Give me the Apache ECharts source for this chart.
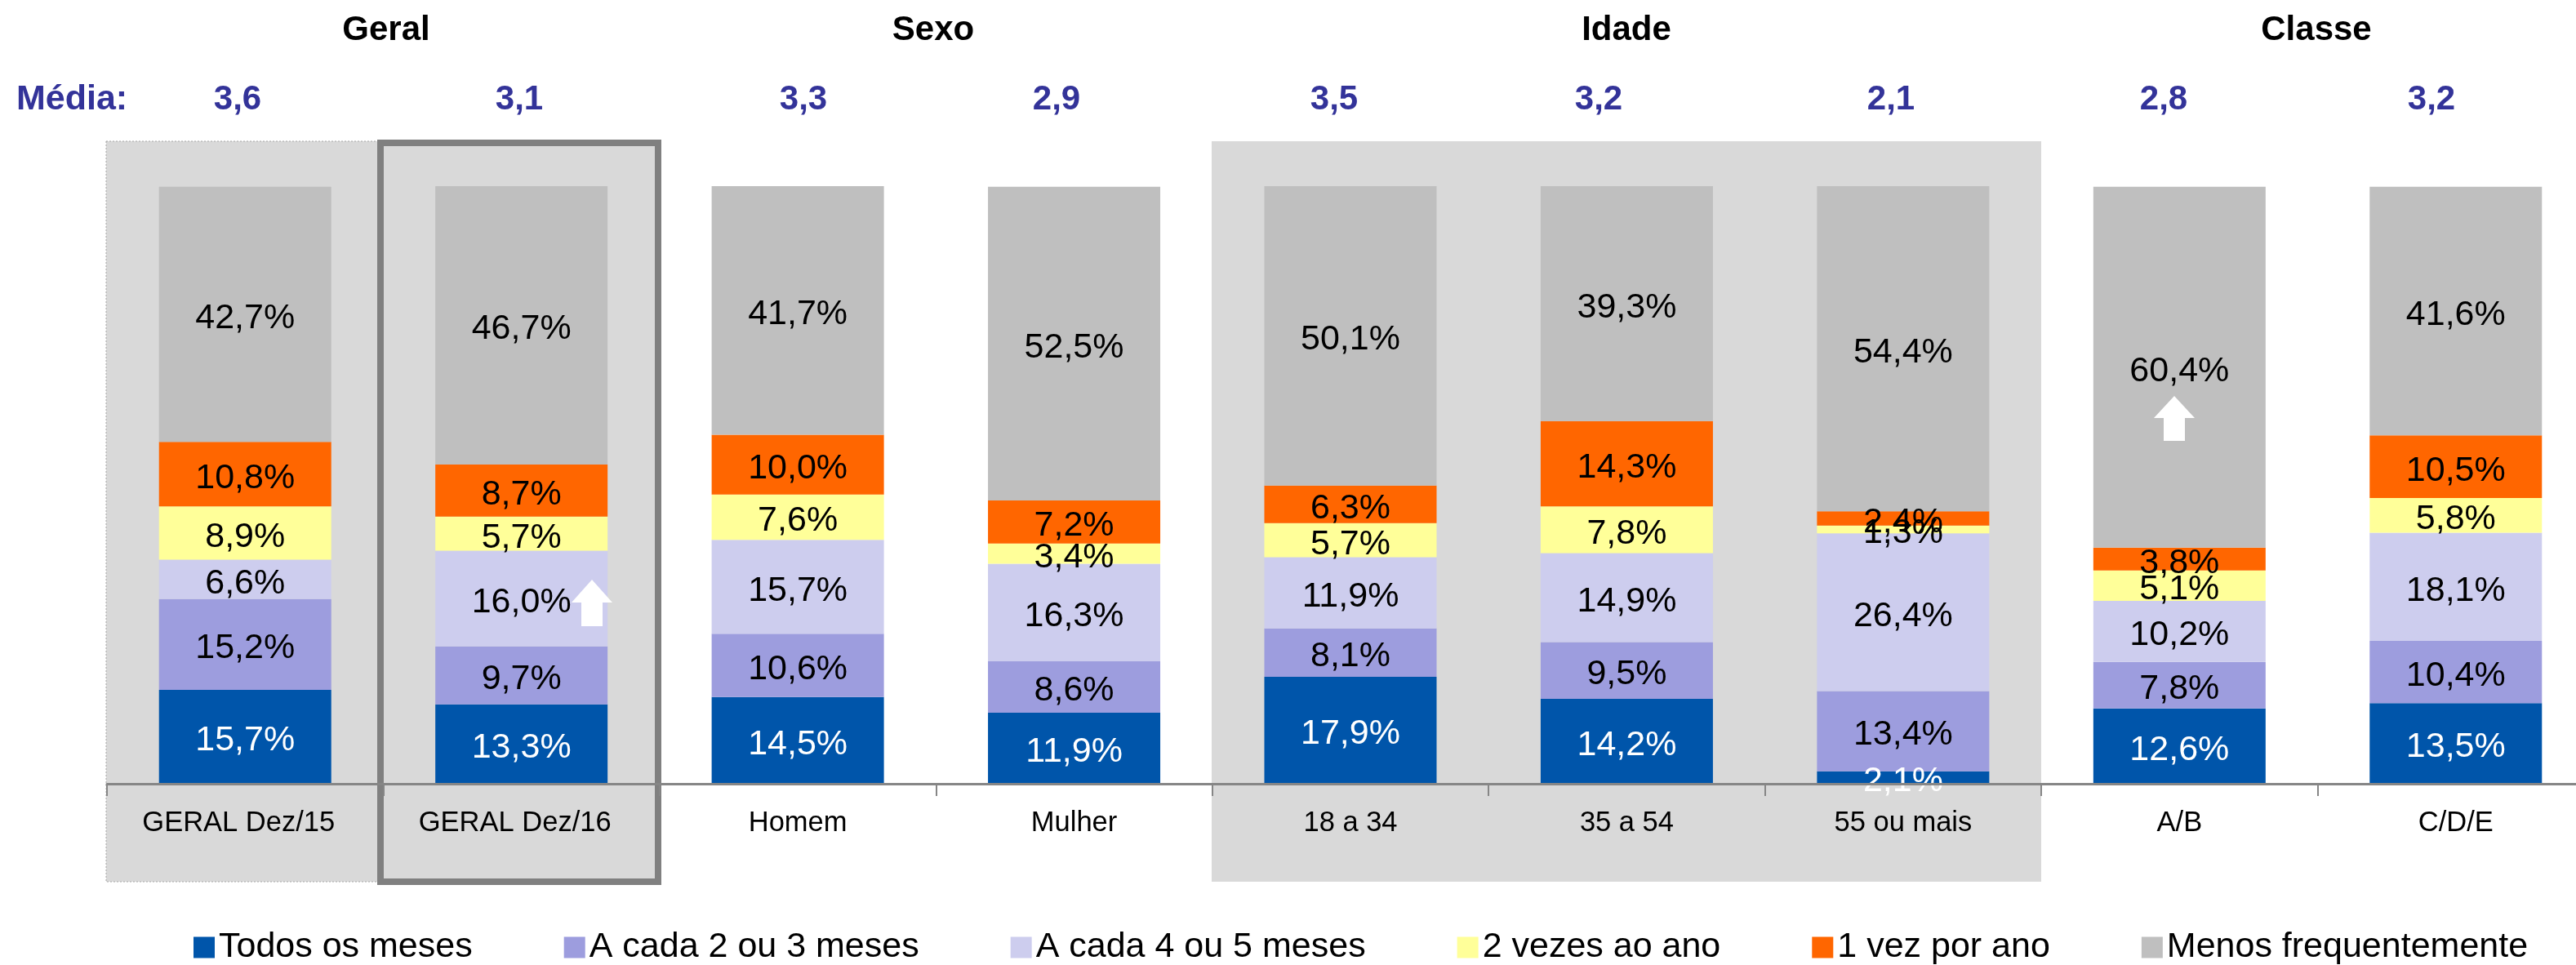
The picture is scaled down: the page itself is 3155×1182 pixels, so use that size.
<!DOCTYPE html>
<html><head><meta charset="utf-8">
<style>html,body{margin:0;padding:0;background:#fff}#c{width:3155px;height:1182px}</style>
<script src="https://cdn.jsdelivr.net/npm/echarts@6/dist/echarts.min.js"></script>
</head><body><div id="c"></div>
<script>
const categories = ['GERAL Dez/15','GERAL Dez/16','Homem','Mulher','18 a 34','35 a 54','55 ou mais','A/B','C/D/E'];
const todosMeses = [15.7,13.3,14.5,11.9,17.9,14.2,2.1,12.6,13.5];
const cada2ou3 = [15.2,9.7,10.6,8.6,8.1,9.5,13.4,7.8,10.4];
const cada4ou5 = [6.6,16.0,15.7,16.3,11.9,14.9,26.4,10.2,18.1];
const duasVezes = [8.9,5.7,7.6,3.4,5.7,7.8,1.3,5.1,5.8];
const umaVez = [10.8,8.7,10.0,7.2,6.3,14.3,2.4,3.8,10.5];
const menosFreq = [42.7,46.7,41.7,52.5,50.1,39.3,54.4,60.4,41.6];
const medias = ['3,6','3,1','3,3','2,9','3,5','3,2','2,1','2,8','3,2'];
const grupos = ['Geral','Sexo','Idade','Classe'];

const mediaX = [291,636,984,1294,1634,1958,2316,2650,2978];
const grupoX = [473,1143,1992,2837];
const FONT = '"Liberation Sans", Arial, sans-serif';
const seriesDefs = [
  ['Todos os meses', todosMeses, '#0055AA', '#fff'],
  ['A cada 2 ou 3 meses', cada2ou3, '#9D9DDE', '#000'],
  ['A cada 4 ou 5 meses', cada4ou5, '#CDCDEE', '#000'],
  ['2 vezes ao ano', duasVezes, '#FFFF99', '#000'],
  ['1 vez por ano', umaVez, '#FF6600', '#000'],
  ['Menos frequentemente', menosFreq, '#BFBFBF', '#000']
];
const fmt = v => v.toFixed(1).replace('.', ',') + '%';
const txt = (x, y, text, fill) => ({
  type:'text', x, y, z:5,
  style:{text, fill, font:'bold 42px '+FONT, textAlign:'center', textVerticalAlign:'middle'}
});
const rect = (x, y, w, h, style, z) => ({type:'rect', z, shape:{x, y, width:w, height:h}, style});
const arrow = (cx, top, bottom, head) => ({
  type:'polygon', z:6,
  shape:{points:[[cx,top],[cx+25,head],[cx+13,head],[cx+13,bottom],[cx-13,bottom],[cx-13,head],[cx-25,head]]},
  style:{fill:'#fff'}
});
const chart = echarts.init(document.getElementById('c'), null, {renderer:'canvas'});
chart.setOption({
  animation:false,
  backgroundColor:'#fff',
  grid:{left:131, top:228, width:3046, height:732, containLabel:false, outerBoundsMode:'none'},
  legend:{
    left:232, top:1134, icon:'rect', itemWidth:26, itemHeight:26, itemGap:112,
    textStyle:{fontFamily:FONT, fontSize:43, color:'#000'},
    data:seriesDefs.map(d => d[0])
  },
  xAxis:{
    type:'category', z:4,
    data:categories.map((c,i) => i < 2 ? {value:c, textStyle:{padding:[0,16,0,0]}} : c),
    axisLine:{lineStyle:{color:'#868686', width:3}},
    axisTick:{show:true, length:15, lineStyle:{color:'#868686', width:2}},
    axisLabel:{fontFamily:FONT, fontSize:34.5, color:'#000', margin:31, interval:0}
  },
  yAxis:{type:'value', min:0, max:100, show:false, splitLine:{show:false}},
  graphic:[
    rect(130, 173, 336, 907, {fill:'#D9D9D9', stroke:'#A6A6A6', lineWidth:1, lineDash:[2,2]}, 0),
    rect(1484, 173, 1016, 907, {fill:'#D9D9D9'}, 0),
    rect(466, 175, 340, 905, {fill:'#D9D9D9', stroke:'#808080', lineWidth:8}, 1),
    arrow(725, 710, 767, 738),
    arrow(2663, 485, 540, 512),
    ...grupos.map((g,i) => txt(grupoX[i], 37, g, '#000')),
    {type:'text', x:20, y:122, z:5, style:{text:'Média:', fill:'#333399', font:'bold 43px '+FONT, textAlign:'left', textVerticalAlign:'middle'}},
    ...medias.map((m,i) => txt(mediaX[i], 122, m, '#333399'))
  ],
  series:seriesDefs.map(d => ({
    name:d[0], type:'bar', stack:'total', data:d[1], barWidth:211, z:3,
    itemStyle:{color:d[2]},
    label:{show:true, position:'inside', offset:[0,5], formatter:p => fmt(p.value), fontFamily:FONT, fontSize:43, color:d[3]}
  }))
});
</script></body></html>
